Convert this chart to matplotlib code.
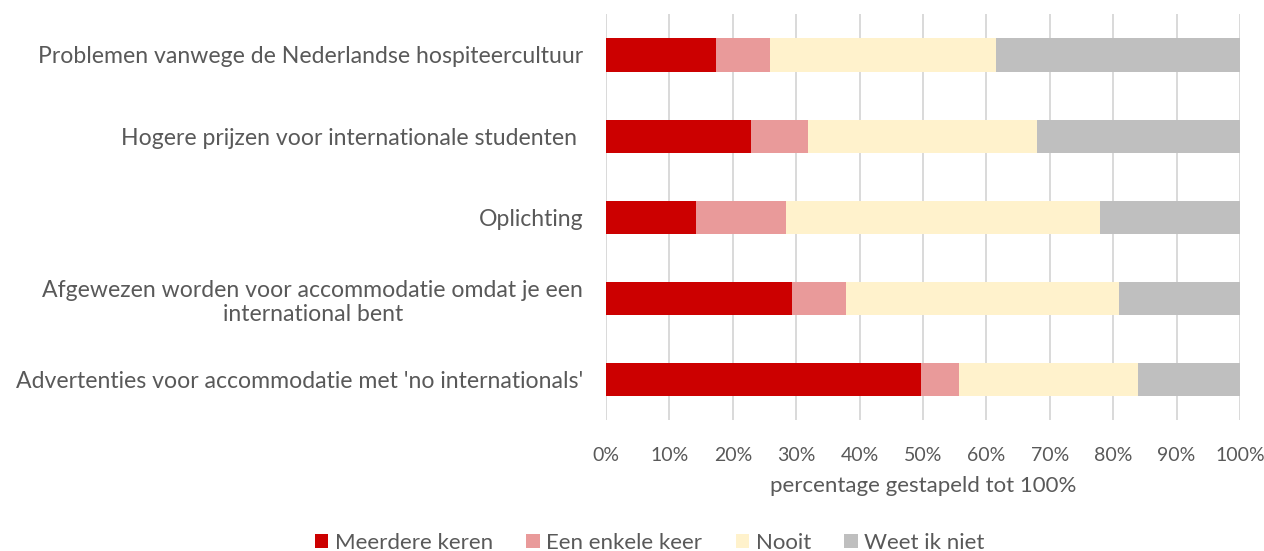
import matplotlib
matplotlib.use('Agg')
import matplotlib.pyplot as plt
import numpy as np

plt.rcParams['font.family'] = ['Lato', 'DejaVu Sans']

categories = ["Problemen vanwege de Nederlandse hospiteercultuur",
              "Hogere prijzen voor internationale studenten ",
              "Oplichting",
              "Afgewezen worden voor accommodatie omdat je een\ninternational bent",
              "Advertenties voor accommodatie met 'no internationals'"]
series_names = ["Meerdere keren", "Een enkele keer", "Nooit", "Weet ik niet"]
meerdere = [17.4, 22.9, 14.2, 29.4, 49.7]
enkele = [8.4, 9.0, 14.2, 8.5, 6.0]
nooit = [35.7, 36.0, 49.5, 43.0, 28.2]
weet_niet = [38.5, 32.1, 22.1, 19.1, 16.1]
colors = ['#cc0000', '#e99a9a', '#fff2cc', '#bfbfbf']

text_color = '#595959'

fig = plt.figure(figsize=(12.64, 5.51), dpi=100)
ax = fig.add_axes([0.4795, 0.237, 0.5015, 0.737])

y = np.arange(len(categories))
left = np.zeros(len(categories))
for name, vals, c in zip(series_names, [meerdere, enkele, nooit, weet_niet], colors):
    vals = np.array(vals)
    ax.barh(y, vals, left=left, height=0.41, color=c, label=name, zorder=3)
    left += vals

ax.set_xlim(0, 100)
ax.set_ylim(len(categories) - 0.5, -0.5)
ax.set_xticks(np.arange(0, 101, 10))
ax.set_xticklabels([f"{t}%" for t in range(0, 101, 10)])
ax.set_yticks(y)
ax.set_yticklabels(categories, multialignment='center')
ax.grid(axis='x', color='#d9d9d9', linewidth=1.4, zorder=0)
for s in ax.spines.values():
    s.set_visible(False)
ax.tick_params(axis='both', length=0, colors=text_color)
ax.tick_params(axis='x', pad=19, labelsize=14)
ax.tick_params(axis='y', pad=16.5, labelsize=16.6)
ax.set_xlabel("percentage gestapeld tot 100%", fontsize=16, color=text_color, labelpad=9)

leg = fig.legend(loc='lower center', ncol=4, bbox_to_anchor=(0.514, -0.04), frameon=False,
                 fontsize=16, handlelength=0.6, handleheight=0.6, handletextpad=0.3,
                 columnspacing=1.5)
for t in leg.get_texts():
    t.set_color(text_color)

fig.savefig('out.png', dpi=100)
